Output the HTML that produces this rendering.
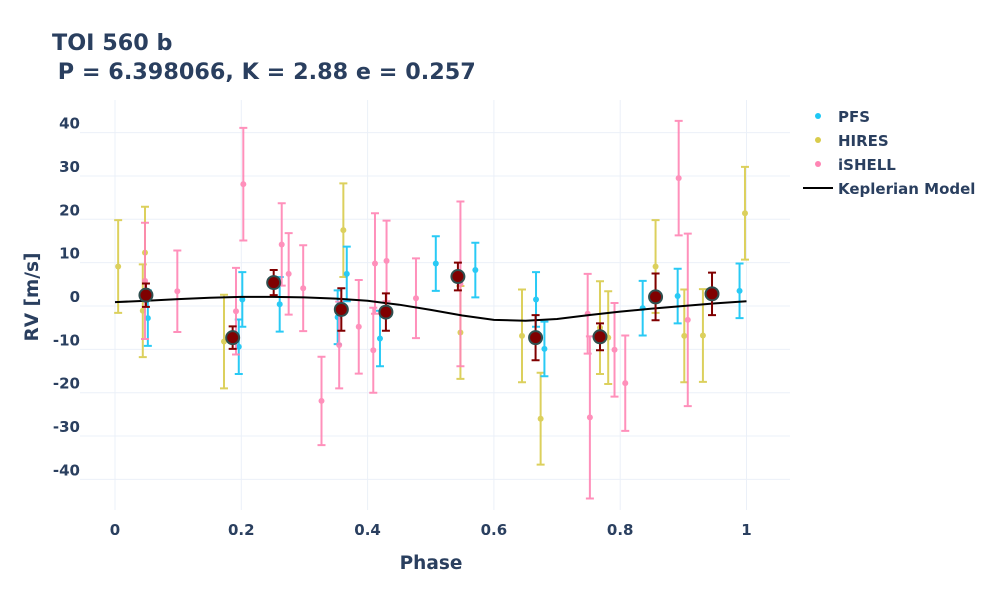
<!DOCTYPE html>
<html><head><meta charset="utf-8"><style>
body{margin:0;background:#fff;}
svg text{font-family:"DejaVu Sans","Liberation Sans",sans-serif;font-weight:bold;fill:#2a3f5f;}
</style></head><body>
<svg id="chart" width="1000" height="600" xmlns="http://www.w3.org/2000/svg">
<rect width="1000" height="600" fill="#fff"/>
<g id="grid"></g>
<g id="marks"></g>
<text x="52" y="50" font-size="22.3">TOI 560 b</text>
<text x="50" y="79" font-size="22.3" xml:space="preserve"> P = 6.398066, K = 2.88 e = 0.257</text>
<text x="431" y="569" font-size="18.5" text-anchor="middle">Phase</text>
<text transform="translate(38,297) rotate(-90)" font-size="18.5" text-anchor="middle">RV [m/s]</text>
<g>
<g><circle cx="818" cy="116" r="3" fill="#1ec8f5"/><text x="838" y="122" font-size="15">PFS</text></g>
<g><circle cx="818" cy="140" r="3" fill="#d9cc4c"/><text x="838" y="146" font-size="15">HIRES</text></g>
<g><circle cx="818" cy="164" r="3" fill="#ff85b4"/><text x="838" y="170" font-size="15">iSHELL</text></g>
<g><line x1="803" y1="188" x2="833" y2="188" stroke="#000" stroke-width="2"/><text x="838" y="194" font-size="15">Keplerian Model</text></g>
</g>
</svg>
<script>
const xTicks=[0,0.2,0.4,0.6,0.8,1];
const xTickLabels=["0","0.2","0.4","0.6","0.8","1"];
const yTicks=[40,30,20,10,0,-10,-20,-30,-40];
const pfsPhase=[0.052,0.196,0.2016,0.2608,0.3526,0.367,0.4196,0.508,0.5706,0.6667,0.68,0.8356,0.891,0.989];
const pfsRV=[-2.8,-9.4,1.5,0.4,-2.6,7.4,-7.5,9.8,8.3,1.5,-9.9,-0.5,2.3,3.5];
const pfsErr=[6.4,6.3,6.3,6.3,6.2,6.3,6.4,6.3,6.3,6.3,6.3,6.3,6.3,6.3];
const hiresPhase=[0.005,0.0475,0.044,0.1726,0.3616,0.547,0.6445,0.674,0.768,0.781,0.856,0.9015,0.931,0.9976];
const hiresRV=[9.1,12.3,-1.1,-8.2,17.5,-6.1,-6.9,-26.0,-5.0,-7.3,9.1,-6.9,-6.8,21.4];
const hiresErr=[10.7,10.6,10.7,10.8,10.8,10.7,10.7,10.6,10.7,10.7,10.7,10.7,10.7,10.7];
const ishellPhase=[0.0475,0.0987,0.1916,0.2032,0.264,0.275,0.298,0.327,0.355,0.386,0.4117,0.409,0.43,0.4766,0.547,0.7485,0.752,0.791,0.808,0.8926,0.907];
const ishellRV=[5.8,3.4,-1.2,28.1,14.2,7.4,4.1,-21.9,-9.0,-4.8,9.8,-10.2,10.4,1.8,5.1,-1.8,-25.7,-10.1,-17.8,29.5,-3.2];
const ishellErr=[13.4,9.4,10.0,13.0,9.5,9.4,9.9,10.2,10.0,10.8,11.6,9.8,9.3,9.2,19.0,9.2,18.7,10.8,11.0,13.2,19.9];
const binPhase=[0.049,0.1863,0.2513,0.3584,0.429,0.543,0.666,0.768,0.856,0.9454];
const binRV=[2.5,-7.3,5.4,-0.8,-1.4,6.8,-7.3,-7.1,2.1,2.8];
const binErr=[2.7,2.6,2.9,4.9,4.3,3.2,5.2,3.1,5.4,4.9];
const modelPhase=[0,0.05,0.1,0.15,0.2,0.25,0.3,0.35,0.4,0.45,0.5,0.55,0.6,0.65,0.7,0.75,0.8,0.85,0.9,0.95,1];
const modelRV=[0.9,1.2,1.6,1.9,2.1,2.1,2.0,1.7,1.2,0.3,-0.9,-2.2,-3.2,-3.4,-3.0,-2.1,-1.3,-0.6,0,0.6,1.1];

const NS="http://www.w3.org/2000/svg";
const xs=p=>115+p*631.5;
const ys=v=>306-v*4.335;
function el(tag,attrs,parent){const e=document.createElementNS(NS,tag);for(const k in attrs)e.setAttribute(k,attrs[k]);parent.appendChild(e);return e;}
const grid=document.getElementById('grid');
const marks=document.getElementById('marks');
xTicks.forEach((t,i)=>{
  const l=el('line',{x1:xs(t),x2:xs(t),y1:100,y2:510,stroke:'#ebf0f8','stroke-width':1},grid);
  
  
  const tx=el('text',{x:xs(t),y:535,'font-size':15,'text-anchor':'middle'},grid);
  tx.textContent=xTickLabels[i];
  
  
});
yTicks.forEach(t=>{
  const l=el('line',{x1:80,x2:790,y1:ys(t),y2:ys(t),stroke:'#ebf0f8','stroke-width':1},grid);
  
  
  const tx=el('text',{x:80,y:ys(t)-4,'font-size':15,'text-anchor':'end'},grid);
  tx.textContent=String(t);
  
  
});
function series(name,ph,rv,er,color,r,cap,op){
  const g=el('g',{opacity:op},marks);
  
  
  ph.forEach((p,i)=>{
    const x=xs(p),y1=ys(rv[i]+er[i]),y2=ys(rv[i]-er[i]);
    const e=el('path',{d:`M${x},${y1}V${y2}M${x-cap},${y1}H${x+cap}M${x-cap},${y2}H${x+cap}`,stroke:color,'stroke-width':2,fill:'none'},g);
    
    
    const c=el('circle',{cx:x,cy:ys(rv[i]),r:r,fill:color},g);
    
    
  });
}
series('hires',hiresPhase,hiresRV,hiresErr,'#d9cc4c',3,4,0.9);
series('pfs',pfsPhase,pfsRV,pfsErr,'#1ec8f5',3,4,0.95);
series('ishell',ishellPhase,ishellRV,ishellErr,'#ff85b4',3,4,0.9);
const path=el('path',{d:modelPhase.map((p,i)=>(i?'L':'M')+xs(p)+','+ys(modelRV[i])).join(''),stroke:'#000','stroke-width':2,fill:'none'},marks);


const bg=el('g',{},marks);


binPhase.forEach((p,i)=>{
  const x=xs(p),y1=ys(binRV[i]+binErr[i]),y2=ys(binRV[i]-binErr[i]);
  const e=el('path',{d:`M${x},${y1}V${y2}M${x-4},${y1}H${x+4}M${x-4},${y2}H${x+4}`,stroke:'#800000','stroke-width':2,fill:'none'},bg);
  
  
  const c=el('circle',{cx:x,cy:ys(binRV[i]),r:6.5,fill:'#800000',stroke:'#2f4f4f','stroke-width':2},bg);
  
  
});
</script>
</body></html>
